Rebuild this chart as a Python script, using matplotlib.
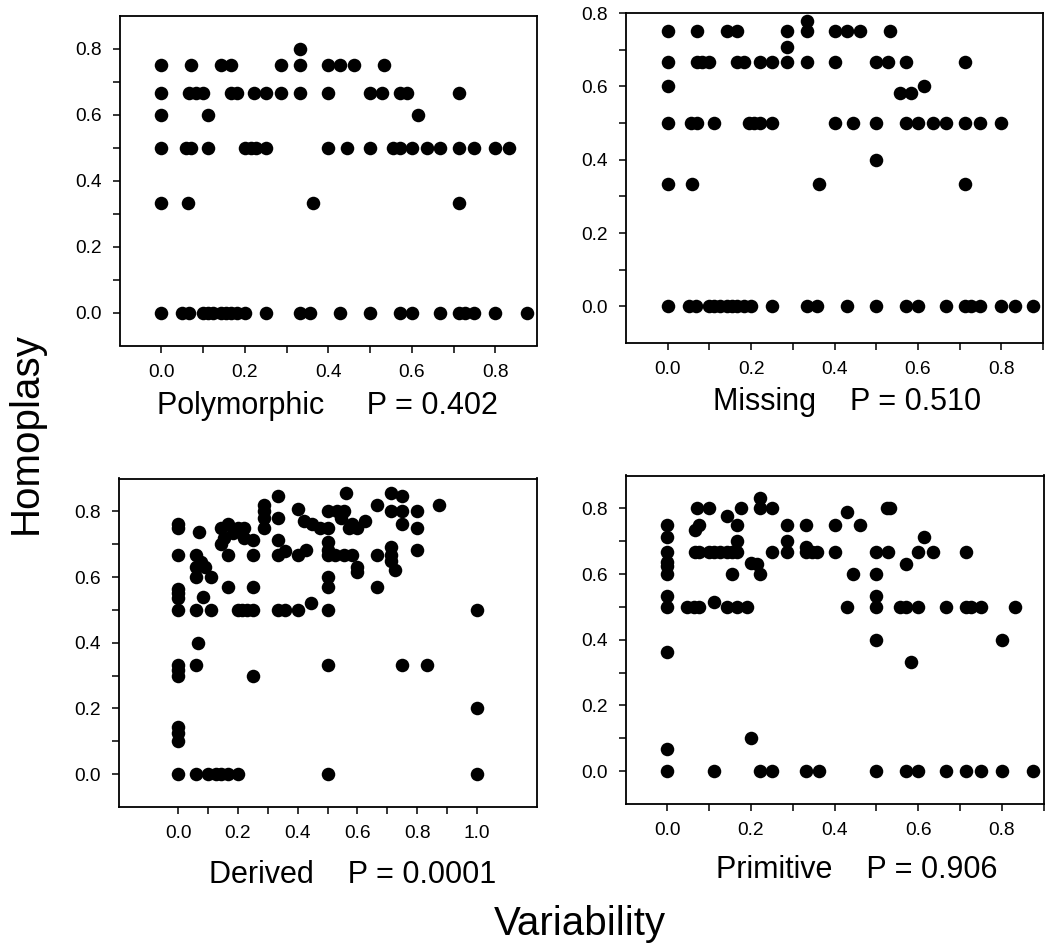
import matplotlib
matplotlib.use("Agg")
import matplotlib.pyplot as plt

plt.rcParams['font.family'] = ['Liberation Sans', 'DejaVu Sans']

W, H = 1047, 948

# --- Polymorphic (P = 0.402) ---
poly_x = [0.333,
          0, 0.071, 0.143, 0.167, 0.286, 0.333, 0.4, 0.429, 0.462, 0.533,
          0, 0.067, 0.083, 0.1, 0.167, 0.182, 0.222, 0.25, 0.286, 0.333, 0.4, 0.5, 0.529, 0.571, 0.588, 0.714,
          0, 0.111, 0.615,
          0, 0.059, 0.071, 0.111, 0.2, 0.214, 0.227, 0.25, 0.4, 0.444, 0.5, 0.556, 0.571, 0.6, 0.636, 0.667, 0.714, 0.75, 0.8, 0.833,
          0, 0.063, 0.364, 0.714,
          0, 0.05, 0.067, 0.1, 0.111, 0.125, 0.143, 0.154, 0.167, 0.182, 0.2, 0.25, 0.333, 0.357, 0.429, 0.5, 0.571, 0.6, 0.667, 0.714, 0.727, 0.75, 0.8, 0.875]
poly_y = [0.8,
          0.75, 0.75, 0.75, 0.75, 0.75, 0.75, 0.75, 0.75, 0.75, 0.75,
          0.667, 0.667, 0.667, 0.667, 0.667, 0.667, 0.667, 0.667, 0.667, 0.667, 0.667, 0.667, 0.667, 0.667, 0.667, 0.667,
          0.6, 0.6, 0.6,
          0.5, 0.5, 0.5, 0.5, 0.5, 0.5, 0.5, 0.5, 0.5, 0.5, 0.5, 0.5, 0.5, 0.5, 0.5, 0.5, 0.5, 0.5, 0.5, 0.5,
          0.333, 0.333, 0.333, 0.333,
          0, 0, 0, 0, 0, 0, 0, 0, 0, 0, 0, 0, 0, 0, 0, 0, 0, 0, 0, 0, 0, 0, 0, 0]

# --- Missing (P = 0.510) ---
miss_x = [0.333,
          0, 0.071, 0.143, 0.167, 0.286, 0.333, 0.4, 0.429, 0.462, 0.533,
          0.286,
          0, 0.071, 0.083, 0.1, 0.167, 0.182, 0.222, 0.25, 0.286, 0.333, 0.4, 0.5, 0.529, 0.571, 0.714,
          0, 0.615,
          0.556, 0.583,
          0, 0.056, 0.071, 0.111, 0.194, 0.208, 0.222, 0.25, 0.4, 0.444, 0.5, 0.571, 0.6, 0.636, 0.667, 0.714, 0.75, 0.8,
          0.5,
          0, 0.059, 0.364, 0.714,
          0, 0.05, 0.067, 0.1, 0.111, 0.125, 0.143, 0.154, 0.167, 0.182, 0.2, 0.25, 0.333, 0.357, 0.429, 0.5, 0.571, 0.6, 0.667, 0.714, 0.727, 0.75, 0.8, 0.833, 0.875]
miss_y = [0.778,
          0.75, 0.75, 0.75, 0.75, 0.75, 0.75, 0.75, 0.75, 0.75, 0.75,
          0.706,
          0.667, 0.667, 0.667, 0.667, 0.667, 0.667, 0.667, 0.667, 0.667, 0.667, 0.667, 0.667, 0.667, 0.667, 0.667,
          0.6, 0.6,
          0.583, 0.583,
          0.5, 0.5, 0.5, 0.5, 0.5, 0.5, 0.5, 0.5, 0.5, 0.5, 0.5, 0.5, 0.5, 0.5, 0.5, 0.5, 0.5, 0.5,
          0.4,
          0.333, 0.333, 0.333, 0.333,
          0, 0, 0, 0, 0, 0, 0, 0, 0, 0, 0, 0, 0, 0, 0, 0, 0, 0, 0, 0, 0, 0, 0, 0, 0]

# --- Derived (P = 0.0001) ---
der_x = [0, 0, 0, 0, 0, 0, 0, 0, 0, 0, 0, 0, 0, 0,
         0.059, 0.059, 0.059, 0.059, 0.067, 0.059, 0.059,
         0.071, 0.077, 0.091, 0.111, 0.083, 0.111,
         0.1, 0.125, 0.143, 0.167, 0.2,
         0.143, 0.167, 0.2, 0.222, 0.143, 0.154, 0.182, 0.222, 0.25, 0.167, 0.25, 0.167, 0.25,
         0.2, 0.214, 0.231, 0.25, 0.25,
         0.286, 0.286, 0.286, 0.286,
         0.333, 0.333, 0.333, 0.333, 0.357, 0.333, 0.357,
         0.4, 0.4, 0.429, 0.4, 0.444,
         0.42, 0.447, 0.475, 0.5, 0.5, 0.533, 0.556, 0.545, 0.571, 0.583, 0.6, 0.625, 0.563,
         0.5, 0.5, 0.5, 0.5, 0.5, 0.5, 0.5, 0.5,
         0.525, 0.556, 0.583, 0.6, 0.6,
         0.667, 0.667, 0.667,
         0.714, 0.714, 0.714, 0.714, 0.714, 0.727,
         0.75, 0.75, 0.75, 0.75,
         0.8, 0.8, 0.8,
         0.833, 0.875,
         1.0, 1.0, 1.0]
der_y = [0.76, 0.75, 0.667, 0.565, 0.55, 0.535, 0.5, 0.333, 0.318, 0.3, 0.143, 0.125, 0.1, 0.0,
         0.667, 0.63, 0.6, 0.5, 0.4, 0.333, 0.0,
         0.737, 0.645, 0.63, 0.6, 0.538, 0.5,
         0, 0, 0, 0, 0,
         0.75, 0.76, 0.75, 0.75, 0.7, 0.72, 0.733, 0.72, 0.714, 0.667, 0.667, 0.571, 0.571,
         0.5, 0.5, 0.5, 0.5, 0.3,
         0.82, 0.8, 0.78, 0.75,
         0.846, 0.78, 0.714, 0.667, 0.68, 0.5, 0.5,
         0.806, 0.667, 0.683, 0.5, 0.52,
         0.77, 0.76, 0.75, 0.8, 0.75, 0.8, 0.8, 0.78, 0.75, 0.76, 0.75, 0.77, 0.857,
         0.708, 0.683, 0.667, 0.6, 0.571, 0.5, 0.333, 0.0,
         0.667, 0.667, 0.667, 0.632, 0.615,
         0.818, 0.667, 0.571,
         0.857, 0.8, 0.69, 0.667, 0.65, 0.62,
         0.846, 0.8, 0.76, 0.333,
         0.8, 0.75, 0.683,
         0.333, 0.82,
         0.5, 0.2, 0.0]

# --- Primitive (P = 0.906) ---
prim_x = [0, 0, 0, 0, 0, 0, 0, 0, 0, 0, 0,
          0.048, 0.063, 0.077, 0.143, 0.167, 0.19, 0.429, 0.5, 0.556, 0.571, 0.6, 0.667, 0.714, 0.727, 0.75, 0.833, 0.111,
          0.067, 0.077, 0.1, 0.111, 0.125, 0.143, 0.154, 0.167, 0.25, 0.286, 0.333, 0.345, 0.357, 0.4, 0.5, 0.529, 0.6, 0.636, 0.714,
          0.071, 0.1, 0.176, 0.222, 0.25, 0.526, 0.533, 0.222,
          0.067, 0.077, 0.143, 0.167, 0.286, 0.333, 0.4, 0.429, 0.462,
          0.167, 0.286, 0.333, 0.615,
          0.2, 0.214, 0.222, 0.154, 0.444, 0.5, 0.571,
          0.5, 0.5, 0.8, 0.583, 0.2,
          0.111, 0.222, 0.25, 0.333, 0.364, 0.5, 0.571, 0.6, 0.667, 0.714, 0.75, 0.8, 0.875]
prim_y = [0.75, 0.714, 0.667, 0.636, 0.625, 0.6, 0.533, 0.5, 0.364, 0.067, 0,
          0.5, 0.5, 0.5, 0.5, 0.5, 0.5, 0.5, 0.5, 0.5, 0.5, 0.5, 0.5, 0.5, 0.5, 0.5, 0.5, 0.515,
          0.667, 0.667, 0.667, 0.667, 0.667, 0.667, 0.667, 0.667, 0.667, 0.667, 0.667, 0.667, 0.667, 0.667, 0.667, 0.667, 0.667, 0.667, 0.667,
          0.8, 0.8, 0.8, 0.8, 0.8, 0.8, 0.8, 0.833,
          0.733, 0.75, 0.778, 0.75, 0.75, 0.75, 0.75, 0.789, 0.75,
          0.7, 0.7, 0.683, 0.714,
          0.633, 0.63, 0.6, 0.6, 0.6, 0.6, 0.632,
          0.533, 0.4, 0.4, 0.333, 0.1,
          0, 0, 0, 0, 0, 0, 0, 0, 0, 0, 0, 0, 0]

ticks_08 = [0.0, 0.1, 0.2, 0.3, 0.4, 0.5, 0.6, 0.7, 0.8]
ticks_09 = [0.0, 0.1, 0.2, 0.3, 0.4, 0.5, 0.6, 0.7, 0.8, 0.9]
ticks_10 = [0.0, 0.1, 0.2, 0.3, 0.4, 0.5, 0.6, 0.7, 0.8, 0.9, 1.0]


def labels(ticks):
    return [f"{t:.1f}" if round(t * 10) % 2 == 0 and t < 0.85 or t == 1.0 else "" for t in ticks]


def panel(fig, box, xs, ys, xlim, ylim, xticks, yticks):
    l, t, r, b = box
    ax = fig.add_axes([l / W, 1 - b / H, (r - l) / W, (b - t) / H])
    ax.scatter(xs, ys, s=95, c='black', linewidths=0, zorder=3, clip_on=False)
    ax.set_xlim(*xlim)
    ax.set_ylim(*ylim)
    ax.set_xticks(xticks)
    ax.set_xticklabels(labels(xticks))
    ax.set_yticks(yticks)
    ax.set_yticklabels(labels(yticks))
    ax.tick_params(direction='out', length=5, width=1.1, labelsize=13.8, pad=8, colors='black')
    for sp in ax.spines.values():
        sp.set_linewidth(1.3)
    return ax


fig = plt.figure(figsize=(W / 100, H / 100), dpi=100)

panel(fig, (119.5, 16, 537, 345.5), poly_x, poly_y, (-0.1, 0.9), (-0.1, 0.9), ticks_08, ticks_08)
panel(fig, (626, 13, 1043, 343), miss_x, miss_y, (-0.1, 0.9), (-0.1, 0.8), ticks_09, ticks_08)
panel(fig, (118.5, 478.5, 536.5, 807), der_x, der_y, (-0.2, 1.2), (-0.1, 0.9), ticks_10, ticks_08)
panel(fig, (625.5, 475.5, 1043.5, 804), prim_x, prim_y, (-0.1, 0.9), (-0.1, 0.9), ticks_09, ticks_08)

captions = [("Polymorphic     P = 0.402", 327, 414),
            ("Missing    P = 0.510", 847, 410),
            ("Derived    P = 0.0001", 353, 883),
            ("Primitive    P = 0.906", 857, 878)]
for text, cx, base in captions:
    fig.text(cx / W, 1 - base / H, text, ha='center', va='baseline', fontsize=22)

fig.text(37 / W, 1 - 433 / H, "Homoplasy", rotation=90, rotation_mode='anchor',
         ha='center', va='baseline', fontsize=29)
fig.text(580 / W, 1 - 935 / H, "Variability", ha='center', va='baseline', fontsize=29)

fig.savefig('out.png', dpi=100)
